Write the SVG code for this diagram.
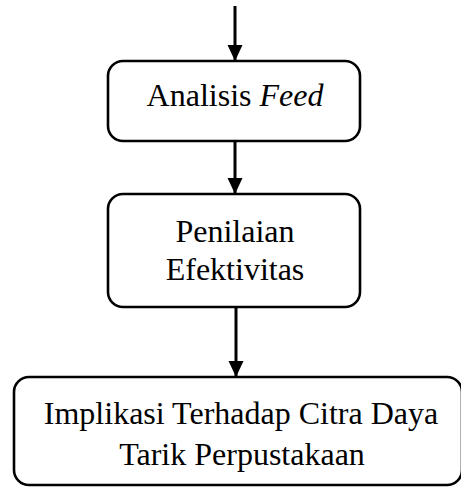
<svg xmlns="http://www.w3.org/2000/svg" width="461" height="488" viewBox="0 0 461 488">
<style>
.box{fill:#fff;stroke:#000;stroke-width:2.6}
.t{font-family:"Liberation Serif","Times New Roman",serif;font-size:32px;fill:#000;text-anchor:middle}
.c{stroke:#000;stroke-width:3;fill:none}
</style>
<defs>
<marker id="ah" markerUnits="userSpaceOnUse" markerWidth="16" markerHeight="17" refX="16" refY="7.5" orient="auto">
<path d="M0,0 L16,7.5 L0,15 Z" fill="#000"/>
</marker>
</defs>
<rect width="461" height="488" fill="#fff"/>
<g id="connectors">
<line class="c" x1="235" y1="6" x2="235" y2="61" marker-end="url(#ah)"/>
<line class="c" x1="235" y1="141" x2="235" y2="194" marker-end="url(#ah)"/>
<line class="c" x1="236" y1="307" x2="236" y2="377" marker-end="url(#ah)"/>
</g>
<g id="node1">
<rect class="box" x="108" y="61" width="252" height="80" rx="15"/>
<text class="t" x="235" y="106">Analisis <tspan font-style="italic">Feed</tspan></text>
</g>
<g id="node2">
<rect class="box" x="108" y="194" width="252" height="113" rx="15"/>
<text class="t" x="235" y="242">Penilaian</text>
<text class="t" x="235" y="280">Efektivitas</text>
</g>
<g id="node3">
<rect class="box" x="14" y="377" width="448" height="108" rx="15"/>
<text class="t" x="241" y="424">Implikasi Terhadap Citra Daya</text>
<text class="t" x="242" y="465">Tarik Perpustakaan</text>
</g>
</svg>
